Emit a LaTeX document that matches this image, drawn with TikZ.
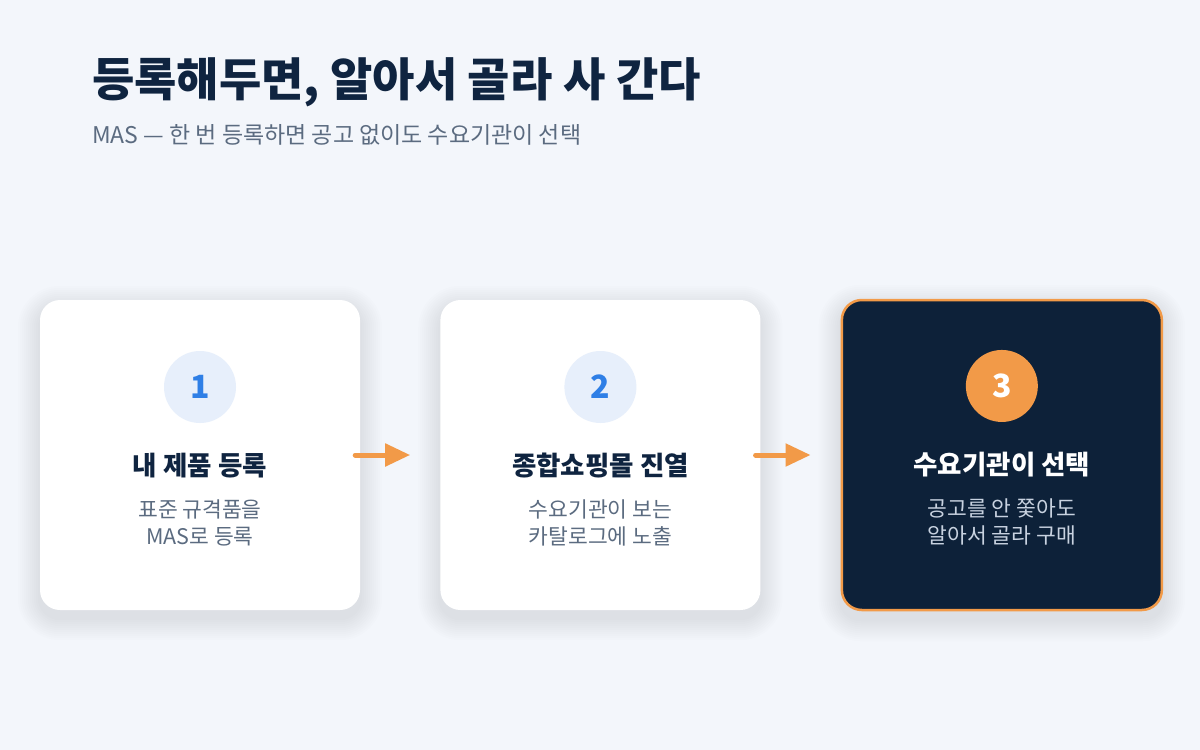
\documentclass[tikz,border=0pt]{standalone}
\usepackage{fontspec}
\setmainfont{Noto Sans CJK KR}
\usetikzlibrary{arrows.meta, positioning, calc, backgrounds}
\definecolor{pageBg}{HTML}{F3F6FB}
\definecolor{inkNavy}{HTML}{0F2440}
\definecolor{inkGrey}{HTML}{5B6B80}
\definecolor{stepBlue}{HTML}{2F7FE6}
\definecolor{stepTint}{HTML}{E7EFFB}
\definecolor{accOrange}{HTML}{F29A48}
\definecolor{darkCard}{HTML}{0D2139}
\definecolor{darkText}{HTML}{C8D2E0}
\definecolor{shadeInk}{HTML}{2A3A55}

\begin{document}
\begin{tikzpicture}[
    x=1pt, y=-1pt,
    node distance=80pt,
    card/.style={rectangle, rounded corners=20pt, fill=white, minimum width=320pt, minimum height=310pt, inner sep=0pt},
    hicard/.style={card, fill=darkCard, draw=accOrange, line width=2.5pt},
    badge/.style={circle, minimum size=72pt, inner sep=0pt, fill=stepTint, text=stepBlue, font=\fontsize{32}{36}\selectfont\bfseries},
    hibadge/.style={badge, fill=accOrange, text=white},
    steptitle/.style={font=\fontsize{26.5}{30}\selectfont\bfseries, text=inkNavy, inner sep=0pt},
    stepdesc/.style={font=\fontsize{21.5}{27}\selectfont, text=inkGrey, align=center, inner sep=0pt},
    flow/.style={-{Triangle[length=25pt, width=22pt]}, line width=5pt, line cap=round, accOrange, shorten <=-5pt, shorten >=30pt}
]

% Heading
\node[anchor=west, inner sep=0pt, text=inkNavy, font=\fontsize{46}{50}\selectfont\bfseries] (head) at (92,82) {등록해두면, 알아서 골라 사 간다};
\node[anchor=west, inner sep=0pt, text=inkGrey, font=\fontsize{23}{26}\selectfont] (sub) at (92,135) {MAS — 한 번 등록하면 공고 없이도 수요기관이 선택};

% Cards
\node[card] (c1) at (200,455) {};
\node[card, right=of c1] (c2) {};
\node[hicard, right=of c2] (c3) {};

% Step 1
\node[badge, below=51pt of c1.north] (b1) {1};
\node[steptitle, below=42pt of b1.south, anchor=center] (t1) {내 제품 등록};
\node[stepdesc, below=58pt of t1.center, anchor=center] (d1) {표준 규격품을\\MAS로 등록};

% Step 2
\node[badge, below=51pt of c2.north] (b2) {2};
\node[steptitle, below=42pt of b2.south, anchor=center] (t2) {종합쇼핑몰 진열};
\node[stepdesc, below=58pt of t2.center, anchor=center] (d2) {수요기관이 보는\\카탈로그에 노출};

% Step 3 (highlighted)
\node[hibadge, below=51pt of c3.north] (b3) {3};
\node[steptitle, text=white, below=42pt of b3.south, anchor=center] (t3) {수요기관이 선택};
\node[stepdesc, text=darkText, below=58pt of t3.center, anchor=center] (d3) {공고를 안 쫓아도\\알아서 골라 구매};

% Arrows
\draw[flow] (c1) -- (c2);
\draw[flow] (c2) -- (c3);

% Page and soft card shadows
\begin{scope}[on background layer]
  \fill[pageBg] (0,0) rectangle (1200,750);
  \foreach \c in {c1,c2,c3}
    \foreach \r in {2,4,...,22}
      \fill[shadeInk, opacity=0.007, rounded corners=20pt+\r pt]
        ($(\c.north west)+(-\r,-\r+8)$) rectangle ($(\c.south east)+(\r,\r+8)$);
\end{scope}
\useasboundingbox (0,0) rectangle (1200,750);

\end{tikzpicture}
\end{document}
